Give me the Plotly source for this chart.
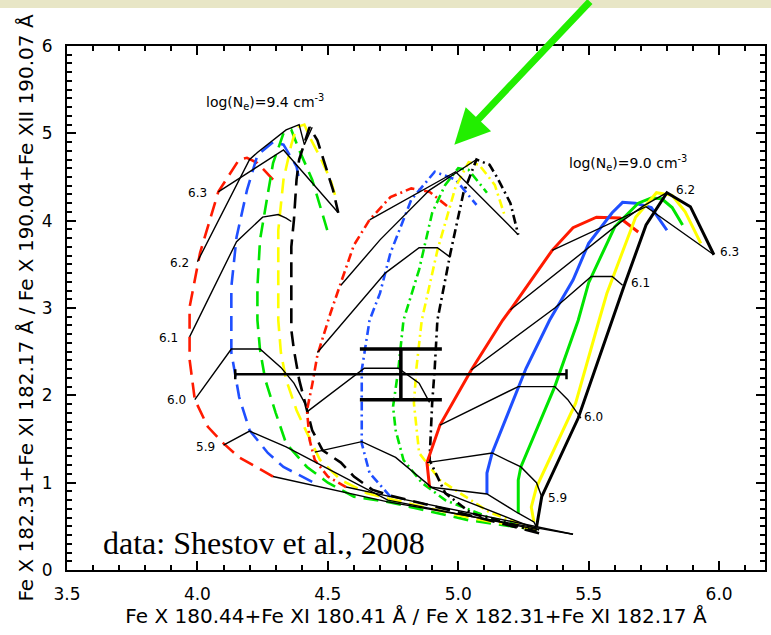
import plotly.graph_objects as go

# ---------------- log(Ne) = 9.0 family (solid curves) ----------------
s_red_x = [4.89, 4.88, 4.93, 5.05, 5.17, 5.20, 5.36, 5.44, 5.53, 5.62, 5.69]
s_red_y = [0.95, 1.23, 1.66, 2.29, 2.86, 2.98, 3.66, 3.92, 4.04, 4.03, 3.87]
s_blue_x = [5.11, 5.11, 5.13, 5.24, 5.26, 5.35, 5.39, 5.44, 5.50, 5.54, 5.59, 5.63, 5.68, 5.74, 5.80]
s_blue_y = [0.87, 1.11, 1.34, 2.18, 2.31, 2.86, 3.07, 3.32, 3.74, 3.89, 4.09, 4.21, 4.20, 4.15, 3.89]
s_green_x = [5.23, 5.23, 5.24, 5.37, 5.46, 5.50, 5.60, 5.69, 5.74, 5.78, 5.82, 5.86]
s_green_y = [0.65, 1.03, 1.18, 2.10, 2.86, 3.29, 3.93, 4.20, 4.26, 4.25, 4.15, 3.95]
s_yellow_x = [5.29, 5.28, 5.30, 5.45, 5.54, 5.57, 5.68, 5.76, 5.82, 5.87, 5.93]
s_yellow_y = [0.55, 0.72, 0.95, 1.91, 2.86, 3.17, 4.04, 4.32, 4.29, 4.10, 3.74]
s_black_x = [5.30, 5.32, 5.46, 5.59, 5.64, 5.72, 5.80, 5.89, 5.98]
s_black_y = [0.49, 0.84, 1.74, 2.86, 3.29, 3.95, 4.32, 4.16, 3.61]

# isotherms of the solid family (logT)
iso_s = {
    "5.8": ([4.89, 5.11, 5.23, 5.29, 5.30], [0.95, 0.87, 0.65, 0.55, 0.49]),
    "5.9": ([4.88, 5.13, 5.24, 5.30, 5.32], [1.23, 1.34, 1.18, 1.00, 0.84]),
    "6.0": ([4.93, 5.23, 5.37, 5.42, 5.47], [1.66, 2.10, 2.10, 1.95, 1.74]),
    "6.1": ([5.05, 5.37, 5.51, 5.59, 5.63], [2.29, 3.00, 3.36, 3.36, 3.26]),
    "6.2": ([5.20, 5.50, 5.63, 5.71, 5.80], [2.98, 3.69, 4.00, 4.17, 4.32]),
    "6.3": ([5.36, 5.72, 5.98], [3.66, 4.16, 3.61]),
}

# ---------------- log(Ne) = 9.4 family (dashed curves) ----------------
d_red_x = [4.29, 4.16, 4.10, 4.04, 3.99, 3.97, 3.97, 3.97, 4.01, 4.08, 4.16, 4.19, 4.23, 4.29]
d_red_y = [1.07, 1.29, 1.45, 1.64, 1.95, 2.41, 2.67, 3.01, 3.63, 4.33, 4.70, 4.72, 4.66, 4.47]
d_blue_x = [4.44, 4.33, 4.27, 4.20, 4.16, 4.13, 4.13, 4.13, 4.15, 4.19, 4.23, 4.29, 4.33, 4.38, 4.39]
d_blue_y = [1.01, 1.18, 1.34, 1.60, 1.98, 2.49, 2.75, 3.24, 3.81, 4.35, 4.75, 4.90, 4.87, 4.62, 4.47]
d_green_x = [5.30, 5.04, 4.73, 4.60, 4.50, 4.42, 4.34, 4.30, 4.26, 4.24, 4.23, 4.23, 4.24, 4.27,
             4.29, 4.33, 4.36, 4.39, 4.44, 4.50]
d_green_y = [0.46, 0.57, 0.78, 0.84, 1.00, 1.18, 1.45, 1.80, 2.18, 2.52, 2.86, 3.24, 3.78, 4.32,
             4.66, 5.00, 5.04, 4.81, 4.47, 3.87]
d_yellow_x = [5.30, 5.04, 4.73, 4.65, 4.55, 4.47, 4.42, 4.38, 4.34, 4.32, 4.31, 4.31, 4.31, 4.33,
              4.36, 4.38, 4.41, 4.43, 4.47, 4.51, 4.53]
d_yellow_y = [0.46, 0.60, 0.82, 0.88, 1.03, 1.26, 1.57, 1.83, 2.18, 2.49, 2.86, 3.32, 3.89, 4.47,
              4.87, 5.07, 5.10, 4.96, 4.73, 4.47, 4.27]
d_black_x = [5.31, 5.04, 4.73, 4.67, 4.60, 4.55, 4.48, 4.44, 4.42, 4.39, 4.37, 4.36, 4.36, 4.36,
             4.37, 4.38, 4.39, 4.43, 4.46, 4.48, 4.52, 4.54]
d_black_y = [0.42, 0.63, 0.86, 0.92, 1.07, 1.23, 1.37, 1.60, 1.83, 2.18, 2.52, 2.75, 3.24, 3.70,
             4.01, 4.47, 4.70, 5.07, 4.92, 4.73, 4.35, 4.09]

iso_d = {
    "5.8": ([4.29, 4.73, 5.44], [1.07, 0.78, 0.41]),
    "5.9": ([4.10, 4.20, 4.34, 4.73, 5.31], [1.43, 1.59, 1.41, 0.80, 0.46]),
    "6.0": ([3.99, 4.13, 4.24, 4.32, 4.37, 4.41], [1.95, 2.53, 2.53, 2.32, 2.14, 1.92]),
    "6.1": ([3.97, 4.15, 4.25, 4.31, 4.34, 4.36], [2.67, 3.76, 4.04, 4.07, 4.03, 3.99]),
    "6.2": ([4.00, 4.20, 4.23, 4.34, 4.39, 4.41, 4.44], [3.53, 4.70, 4.78, 5.04, 5.10, 4.87, 5.07]),
    "6.3": ([4.08, 4.33, 4.54], [4.33, 4.81, 4.09]),
}

# ---------------- middle family (dash-dot curves) ----------------
m_red_x = [4.57, 4.50, 4.45, 4.43, 4.42, 4.44, 4.46, 4.51, 4.55, 4.60, 4.66, 4.74, 4.82, 4.89, 4.96]
m_red_y = [0.95, 1.07, 1.26, 1.49, 1.83, 2.12, 2.46, 2.94, 3.29, 3.72, 4.01, 4.27, 4.37, 4.33, 4.16]
m_blue_x = [4.74, 4.66, 4.63, 4.63, 4.63, 4.66, 4.70, 4.74, 4.82, 4.91, 4.99, 5.07]
m_blue_y = [0.84, 1.11, 1.45, 1.80, 2.29, 2.86, 3.17, 3.63, 4.24, 4.56, 4.47, 4.18]
m_green_x = [5.30, 5.12, 4.95, 4.86, 4.79, 4.76, 4.75, 4.77, 4.79, 4.85, 4.90, 4.95, 5.00, 5.04, 5.11]
m_green_y = [0.46, 0.60, 0.80, 1.00, 1.26, 1.60, 1.87, 2.29, 2.86, 3.44, 4.09, 4.41, 4.60, 4.58, 4.32]
m_yellow_x = [5.30, 5.12, 4.93, 4.85, 4.83, 4.84, 4.86, 4.92, 4.99, 5.04, 5.08, 5.14, 5.18]
m_yellow_y = [0.46, 0.66, 1.03, 1.34, 1.91, 2.32, 2.86, 3.66, 4.39, 4.67, 4.64, 4.41, 4.04]
m_black_x = [5.30, 5.05, 4.95, 4.89, 4.90, 4.91, 4.92, 4.97, 5.02, 5.07, 5.12, 5.15, 5.20, 5.23]
m_black_y = [0.44, 0.65, 0.88, 1.26, 1.91, 2.32, 2.86, 3.63, 4.32, 4.70, 4.64, 4.49, 4.20, 3.84]

iso_m = {
    "5.8": ([4.57, 4.74, 5.44], [0.95, 0.84, 0.41]),
    "5.9": ([4.45, 4.63, 4.76, 4.90, 5.31], [1.35, 1.47, 1.29, 0.94, 0.46]),
    "6.0": ([4.42, 4.64, 4.77, 4.85, 4.89], [1.81, 2.31, 2.31, 2.14, 1.92]),
    "6.1": ([4.46, 4.72, 4.85, 4.92, 4.97], [2.49, 3.40, 3.69, 3.69, 3.58]),
    "6.2": ([4.55, 4.70, 4.89, 5.07], [3.26, 3.78, 4.35, 4.70]),
    "6.3": ([4.66, 4.99, 5.23], [4.01, 4.56, 3.84]),
}

# observed ratio with its uncertainties
obs_x = [4.78]
obs_y = [2.24]
obs_dx = [0.635]
obs_dy = [0.29]

# temperature labels (logT) for the two labelled families
lab_d_text = ["6.3", "6.2", "6.1", "6.0", "5.9"]
lab_d_x = [4.00, 3.93, 3.89, 3.92, 4.03]
lab_d_y = [4.32, 3.52, 2.66, 1.95, 1.41]
lab_s_text = ["6.3", "6.2", "6.1", "6.0", "5.9"]
lab_s_x = [6.04, 5.87, 5.70, 5.52, 5.38]
lab_s_y = [3.64, 4.35, 3.29, 1.75, 0.82]

RED, BLUE, GREEN, YELLOW, BLACK = "#ff1a00", "#1f4fff", "#00e400", "#ffff00", "#000000"

fig = go.Figure()

def curve(x, y, color, dash, width=2.6):
    fig.add_trace(go.Scatter(x=x, y=y, mode="lines", hoverinfo="skip",
                             line=dict(color=color, width=width, dash=dash)))

DASH = "15px,8px"
DASHDOT = "9px,4px,2px,4px"

for xs, ys, c in [(d_red_x, d_red_y, RED), (d_blue_x, d_blue_y, BLUE),
                  (d_green_x, d_green_y, GREEN), (d_yellow_x, d_yellow_y, YELLOW),
                  (d_black_x, d_black_y, BLACK)]:
    curve(xs, ys, c, DASH)

for xs, ys, c in [(m_red_x, m_red_y, RED), (m_blue_x, m_blue_y, BLUE),
                  (m_green_x, m_green_y, GREEN), (m_yellow_x, m_yellow_y, YELLOW),
                  (m_black_x, m_black_y, BLACK)]:
    curve(xs, ys, c, DASHDOT)

for xs, ys, c in [(s_red_x, s_red_y, RED), (s_blue_x, s_blue_y, BLUE),
                  (s_green_x, s_green_y, GREEN), (s_yellow_x, s_yellow_y, YELLOW),
                  (s_black_x, s_black_y, BLACK)]:
    curve(xs, ys, c, "solid", width=3)

for fam in (iso_d, iso_m, iso_s):
    for key, (xs, ys) in fam.items():
        curve(xs, ys, BLACK, "solid", width=1.4)

fig.add_trace(go.Scatter(
    x=obs_x, y=obs_y, mode="markers", marker=dict(size=1, color=BLACK), hoverinfo="skip",
    error_x=dict(type="data", array=obs_dx, color=BLACK, thickness=2.5, width=5),
    error_y=dict(type="data", array=obs_dy, color=BLACK, thickness=3.5, width=41),
))

SANS = "DejaVu Sans, Verdana, sans-serif"
label_font = dict(family=SANS, size=12, color="black")
for t, x, y in zip(lab_d_text + lab_s_text, lab_d_x + lab_s_x, lab_d_y + lab_s_y):
    fig.add_annotation(x=x, y=y, text=t, showarrow=False, font=label_font,
                       xanchor="center", yanchor="middle")

fig.add_annotation(x=4.26, y=5.36, text="log(N<sub>e</sub>)=9.4 cm<sup>-3</sup>",
                   showarrow=False, font=dict(family=SANS, size=14, color="black"))
fig.add_annotation(x=5.65, y=4.66, text="log(N<sub>e</sub>)=9.0 cm<sup>-3</sup>",
                   showarrow=False, font=dict(family=SANS, size=14, color="black"))

fig.add_annotation(x=3.63, y=0.31, text="data: Shestov et al., 2008", showarrow=False,
                   xanchor="left", yanchor="middle",
                   font=dict(family="Liberation Serif, Times New Roman, serif", size=32, color="black"))

# green pointer towards the middle family
fig.add_annotation(x=4.985, y=4.87, ax=137, ay=-150, text="", showarrow=True,
                   arrowhead=2, arrowsize=1.0, arrowwidth=7, arrowcolor="#22ee00")

# light band along the top edge
fig.add_shape(type="rect", xref="paper", yref="paper", x0=-0.2, x1=1.2,
              y0=1.0725, y1=1.1, fillcolor="#e8e6c6", line=dict(width=0), layer="above")

tick_font = dict(family=SANS, size=17, color="black")
title_font = dict(family=SANS, size=20, color="black")

fig.update_layout(
    width=771, height=635,
    margin=dict(l=67, r=4, t=46, b=65),
    paper_bgcolor="white", plot_bgcolor="white",
    showlegend=False,
    xaxis=dict(
        range=[3.5, 6.176], tickmode="linear", tick0=3.5, dtick=0.5, tickformat=".1f",
        showline=True, linecolor="black", linewidth=2, mirror="allticks",
        ticks="inside", ticklen=9, tickwidth=2, tickcolor="black",
        minor=dict(ticks="inside", ticklen=5, tickwidth=1.5, tickcolor="black", dtick=0.1, tick0=3.5,
                   showgrid=False),
        showgrid=False, zeroline=False, tickfont=tick_font, ticklabelstandoff=8,
        title=dict(text="Fe X 180.44+Fe XI 180.41 Å / Fe X 182.31+Fe XI 182.17 Å",
                   font=title_font, standoff=3),
    ),
    yaxis=dict(
        range=[0, 6], tickmode="linear", tick0=0, dtick=1,
        showline=True, linecolor="black", linewidth=2, mirror="allticks",
        ticks="inside", ticklen=9, tickwidth=2, tickcolor="black",
        minor=dict(ticks="inside", ticklen=5, tickwidth=1.5, tickcolor="black", dtick=0.1, tick0=0,
                   showgrid=False),
        showgrid=False, zeroline=False, tickfont=tick_font, ticklabelstandoff=9,
        title=dict(text="Fe X 182.31+Fe XI 182.17 Å / Fe X 190.04+Fe XII 190.07 Å",
                   font=title_font, standoff=3),
    ),
)

fig.write_html("out.html")
